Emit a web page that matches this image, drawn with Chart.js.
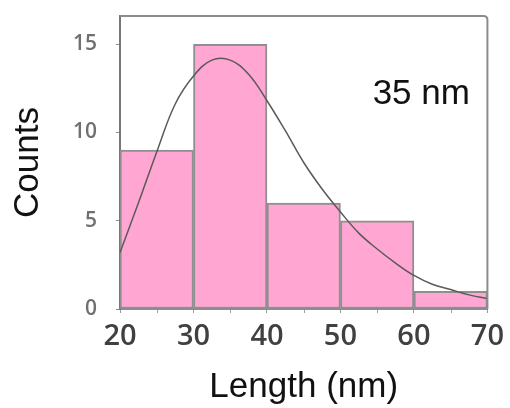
<!DOCTYPE html>
<html>
<head>
<meta charset="utf-8">
<script src="https://cdn.jsdelivr.net/npm/chart.js@4"></script>
<style>
  html, body { margin: 0; padding: 0; background: #ffffff; }
  #wrap { width: 510px; height: 408px; }
</style>
</head>
<body>
<div id="wrap"><canvas id="histChart" width="510" height="408"></canvas></div>
<script>
// Histograma de longitudes
const binEdges = [20, 30, 40, 50, 60, 70];
const counts = [9, 15, 6, 5, 1];

// Curva de ajuste
const curveX = [20, 22.5, 25, 27.5, 30, 32.5, 35, 37.5, 40, 42.5, 45, 47.5, 50, 52.5, 55, 57.5, 60, 62.5, 65, 67.5, 70];
const curveY = [3.2, 6.0, 8.9, 11.6, 13.2, 14.1, 14.1, 13.3, 11.8, 10.1, 8.3, 6.8, 5.5, 4.3, 3.4, 2.6, 1.9, 1.4, 1.1, 0.8, 0.6];

const xTicks = [20, 30, 40, 50, 60, 70];
const yTicks = [0, 5, 10, 15];
const labelText = '35 nm';

const barData = counts.map((c, i) => ({ x: (binEdges[i] + binEdges[i + 1]) / 2, y: c }));
const lineData = curveX.map((x, i) => ({ x: x, y: curveY[i] }));

// Marco gris alrededor del área, marcas menores y texto "35 nm"
const framePlugin = {
    id: 'frame',
    afterDraw(chart) {
        const { ctx, chartArea: a } = chart;
        const xs = chart.scales.x;
        ctx.save();
        ctx.strokeStyle = '#8c8c8c';
        ctx.lineWidth = 2;
        ctx.beginPath();
        ctx.moveTo(a.left, a.top);
        ctx.lineTo(a.right - 4, a.top);
        ctx.quadraticCurveTo(a.right, a.top, a.right, a.top + 4);
        ctx.lineTo(a.right, a.bottom);
        ctx.stroke();
        // marcas menores del eje x
        ctx.lineWidth = 1;
        ctx.strokeStyle = '#a0a0a0';
        for (let i = 0; i < xTicks.length - 1; i++) {
            const px = Math.round(xs.getPixelForValue((xTicks[i] + xTicks[i + 1]) / 2)) + 0.5;
            ctx.beginPath();
            ctx.moveTo(px, a.bottom + 1);
            ctx.lineTo(px, a.bottom + 4);
            ctx.stroke();
        }
        ctx.fillStyle = '#111111';
        ctx.font = '35px "Liberation Sans", Arial, sans-serif';
        ctx.textAlign = 'center';
        ctx.textBaseline = 'middle';
        ctx.fillText(labelText, a.left + (a.right - a.left) * 0.82, a.top + 78);
        ctx.restore();
    }
};

const ctx = document.getElementById('histChart').getContext('2d');
new Chart(ctx, {
    type: 'bar',
    data: {
        datasets: [{
            type: 'line',
            data: lineData,
            borderColor: '#5a5a5a',
            borderWidth: 1.5,
            pointRadius: 0,
            tension: 0.4,
            fill: false
        }, {
            type: 'bar',
            data: barData,
            backgroundColor: '#ffa6d2',
            borderColor: '#8f8f8f',
            borderWidth: 2,
            borderSkipped: false,
            barPercentage: 1,
            categoryPercentage: 1
        }]
    },
    plugins: [framePlugin],
    options: {
        responsive: false,
        animation: false,
        layout: { padding: { left: 0, right: 22, top: 16, bottom: 0 } },
        plugins: {
            legend: { display: false },
            tooltip: { enabled: false }
        },
        scales: {
            x: {
                type: 'linear',
                min: 20,
                max: 70,
                offset: false,
                afterFit: (s) => { s.height = 99; },
                afterBuildTicks: (s) => { s.ticks = xTicks.map(v => ({ value: v })); },
                ticks: {
                    autoSkip: false,
                    maxRotation: 0,
                    padding: 6,
                    color: '#404040',
                    font: { family: '"Open Sans", sans-serif', size: 29, weight: '600' }
                },
                grid: {
                    offset: false,
                    drawOnChartArea: false,
                    tickLength: 4,
                    color: '#9a9a9a',
                    lineWidth: 1
                },
                border: { color: '#8c8c8c', width: 2 },
                title: {
                    display: true,
                    text: 'Length (nm)',
                    color: '#111111',
                    font: { family: '"Liberation Sans", Arial, sans-serif', size: 35 },
                    padding: { top: 0, bottom: 0 }
                }
            },
            y: {
                min: 0,
                max: 16.6,
                afterFit: (s) => { s.width = 120; s.paddingTop = 0; s.paddingBottom = 0; },
                afterBuildTicks: (s) => { s.ticks = yTicks.map(v => ({ value: v })); },
                ticks: {
                    padding: 19,
                    color: '#707070',
                    font: { family: '"Open Sans", sans-serif', size: 21, weight: '600' }
                },
                grid: {
                    drawOnChartArea: false,
                    tickLength: 4,
                    color: '#8c8c8c'
                },
                border: { color: '#777777', width: 2 },
                title: {
                    display: true,
                    text: 'Counts',
                    color: '#111111',
                    font: { family: '"Liberation Sans", Arial, sans-serif', size: 35 },
                    padding: { top: 7, bottom: 0 }
                }
            }
        }
    }
});
</script>
</body>
</html>
